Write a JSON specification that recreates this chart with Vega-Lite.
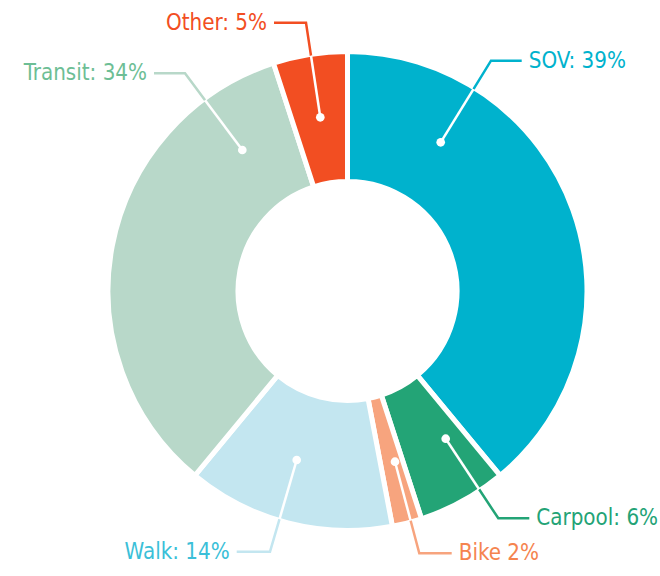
{
  "$schema": "https://vega.github.io/schema/vega-lite/v6.json",
  "width": 476,
  "height": 476,
  "autosize": {"type": "none"},
  "padding": {"left": 109.5, "top": 53, "right": 74.5, "bottom": 47},
  "background": "white",
  "config": {"view": {"stroke": null}},
  "datasets": {
    "shares": [
      {"mode": "SOV", "pct": 39, "ord": 1, "label": "SOV: 39%"},
      {"mode": "Carpool", "pct": 6, "ord": 2, "label": "Carpool: 6%"},
      {"mode": "Bike", "pct": 2, "ord": 3, "label": "Bike 2%"},
      {"mode": "Walk", "pct": 14, "ord": 4, "label": "Walk: 14%"},
      {"mode": "Transit", "pct": 34, "ord": 5, "label": "Transit: 34%"},
      {"mode": "Other", "pct": 5, "ord": 6, "label": "Other: 5%"}
    ],
    "leaders": [
      {"mode": "SOV", "i": 1, "x": 174.2, "y": 230.3},
      {"mode": "SOV", "i": 2, "x": 143.5, "y": 230.3},
      {"mode": "SOV", "i": 3, "x": 126, "y": 201.9},
      {"mode": "SOV", "i": 4, "x": 93.2, "y": 148.7},
      {"mode": "Carpool", "i": 1, "x": 181.8, "y": -227.3},
      {"mode": "Carpool", "i": 2, "x": 150.8, "y": -227.3},
      {"mode": "Carpool", "i": 3, "x": 131.6, "y": -198.3},
      {"mode": "Carpool", "i": 4, "x": 98.2, "y": -147.7},
      {"mode": "Bike", "i": 1, "x": 104.2, "y": -262.3},
      {"mode": "Bike", "i": 2, "x": 71.8, "y": -262.3},
      {"mode": "Bike", "i": 3, "x": 63.1, "y": -229.5},
      {"mode": "Bike", "i": 4, "x": 47.5, "y": -170.7},
      {"mode": "Walk", "i": 1, "x": -110.8, "y": -260.7},
      {"mode": "Walk", "i": 2, "x": -77.5, "y": -260.7},
      {"mode": "Walk", "i": 3, "x": -68, "y": -228.1},
      {"mode": "Walk", "i": 4, "x": -50.8, "y": -169},
      {"mode": "Transit", "i": 1, "x": -193.5, "y": 217.7},
      {"mode": "Transit", "i": 2, "x": -162.5, "y": 217.7},
      {"mode": "Transit", "i": 3, "x": -142.4, "y": 190.7},
      {"mode": "Transit", "i": 4, "x": -105.2, "y": 141},
      {"mode": "Other", "i": 1, "x": -73.5, "y": 268.3},
      {"mode": "Other", "i": 2, "x": -41.5, "y": 268.3},
      {"mode": "Other", "i": 3, "x": -36.5, "y": 235.2},
      {"mode": "Other", "i": 4, "x": -27.2, "y": 173.7}
    ]
  },
  "layer": [
    {
      "data": {"name": "shares"},
      "mark": {"type": "arc", "outerRadius": 239.5, "innerRadius": 109.5, "stroke": "white", "strokeWidth": 5},
      "encoding": {
        "theta": {"field": "pct", "type": "quantitative", "stack": true},
        "order": {"field": "ord", "type": "quantitative"},
        "color": {
          "field": "mode", "type": "nominal", "legend": null,
          "scale": {"domain": ["SOV", "Carpool", "Bike", "Walk", "Transit", "Other"],
                    "range": ["#00B2CD", "#23A476", "#F7A47E", "#C3E6F0", "#B8D8C9", "#F24E22"]}
        }
      }
    },
    {
      "data": {"name": "leaders"},
      "transform": [{"filter": "datum.i <= 3"}],
      "mark": {"type": "line", "strokeWidth": 2.5, "strokeJoin": "miter"},
      "encoding": {
        "x": {"field": "x", "type": "quantitative", "scale": {"domain": [-238, 238], "nice": false, "zero": false}, "axis": null},
        "y": {"field": "y", "type": "quantitative", "scale": {"domain": [-238, 238], "nice": false, "zero": false}, "axis": null},
        "order": {"field": "i", "type": "quantitative"},
        "color": {
          "field": "mode", "type": "nominal", "legend": null,
          "scale": {"domain": ["SOV", "Carpool", "Bike", "Walk", "Transit", "Other"],
                    "range": ["#00B2CD", "#23A476", "#F7A47E", "#C3E6F0", "#B8D8C9", "#F24E22"]}
        }
      }
    },
    {
      "data": {"name": "leaders"},
      "transform": [{"filter": "datum.i >= 3"}],
      "mark": {"type": "line", "strokeWidth": 2.5, "color": "white"},
      "encoding": {
        "x": {"field": "x", "type": "quantitative", "scale": {"domain": [-238, 238], "nice": false, "zero": false}, "axis": null},
        "y": {"field": "y", "type": "quantitative", "scale": {"domain": [-238, 238], "nice": false, "zero": false}, "axis": null},
        "order": {"field": "i", "type": "quantitative"},
        "detail": {"field": "mode"}
      }
    },
    {
      "data": {"name": "leaders"},
      "transform": [{"filter": "datum.i == 4"}],
      "mark": {"type": "point", "filled": true, "color": "white", "opacity": 1, "size": 75},
      "encoding": {
        "x": {"field": "x", "type": "quantitative", "scale": {"domain": [-238, 238], "nice": false, "zero": false}, "axis": null},
        "y": {"field": "y", "type": "quantitative", "scale": {"domain": [-238, 238], "nice": false, "zero": false}, "axis": null}
      }
    },
    {
      "data": {"name": "leaders"},
      "transform": [
        {"filter": "datum.i == 1 && datum.x > 0"},
        {"lookup": "mode", "from": {"data": {"name": "shares"}, "key": "mode", "fields": ["label"]}}
      ],
      "mark": {"type": "text", "align": "left", "baseline": "middle", "dx": 7, "dy": 0, "font": "DejaVu Sans Condensed", "fontSize": 22.2},
      "encoding": {
        "x": {"field": "x", "type": "quantitative", "scale": {"domain": [-238, 238], "nice": false, "zero": false}, "axis": null},
        "y": {"field": "y", "type": "quantitative", "scale": {"domain": [-238, 238], "nice": false, "zero": false}, "axis": null},
        "text": {"field": "label"},
        "color": {
          "field": "mode", "type": "nominal", "legend": null,
          "scale": {"domain": ["SOV", "Carpool", "Bike", "Walk", "Transit", "Other"],
                    "range": ["#00B2CD", "#23A376", "#F5844F", "#3BBFD8", "#6DBE95", "#F24E22"]}
        }
      }
    },
    {
      "data": {"name": "leaders"},
      "transform": [
        {"filter": "datum.i == 1 && datum.x < 0"},
        {"lookup": "mode", "from": {"data": {"name": "shares"}, "key": "mode", "fields": ["label"]}}
      ],
      "mark": {"type": "text", "align": "right", "baseline": "middle", "dx": -7, "dy": 0, "font": "DejaVu Sans Condensed", "fontSize": 22.2},
      "encoding": {
        "x": {"field": "x", "type": "quantitative", "scale": {"domain": [-238, 238], "nice": false, "zero": false}, "axis": null},
        "y": {"field": "y", "type": "quantitative", "scale": {"domain": [-238, 238], "nice": false, "zero": false}, "axis": null},
        "text": {"field": "label"},
        "color": {
          "field": "mode", "type": "nominal", "legend": null,
          "scale": {"domain": ["SOV", "Carpool", "Bike", "Walk", "Transit", "Other"],
                    "range": ["#00B2CD", "#23A376", "#F5844F", "#3BBFD8", "#6DBE95", "#F24E22"]}
        }
      }
    }
  ],
  "resolve": {"scale": {"color": "independent"}}
}
